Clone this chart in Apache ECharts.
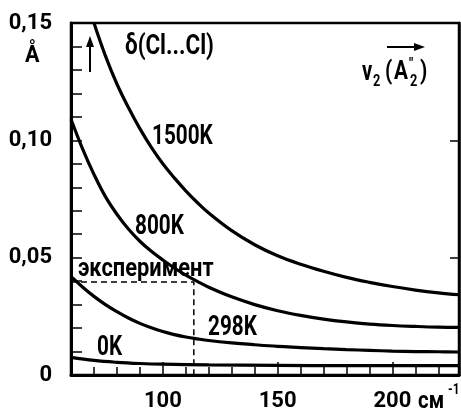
<!DOCTYPE html>
<html>
<head>
    <meta charset="UTF-8">
    <title>delta Cl...Cl</title>
    <script src="https://cdn.jsdelivr.net/npm/echarts@6/dist/echarts.min.js"></script>
    <style>
        html, body { margin: 0; padding: 0; background: #fff; }
        #main { width: 461px; height: 413px; }
    </style>
</head>
<body>
<div id="main"></div>
<script>
    // ν2 в см-1, δ в Å
    var x1500 = [70, 75, 80, 85, 90, 95, 100, 105, 110, 115, 120, 130, 140, 150, 160, 170, 180, 190, 200, 210, 220, 229];
    var y1500 = [0.150, 0.136, 0.124, 0.114, 0.105, 0.097, 0.090, 0.084, 0.0785, 0.0735, 0.069, 0.0615, 0.0555, 0.0508, 0.0472, 0.0442, 0.0416, 0.0395, 0.0377, 0.0362, 0.035, 0.0342];

    var x800 = [60, 65, 70, 75, 80, 85, 90, 95, 100, 105, 110, 115, 120, 130, 140, 150, 160, 170, 180, 190, 200, 210, 220, 229];
    var y800 = [0.109, 0.0965, 0.0855, 0.0760, 0.0685, 0.0622, 0.0570, 0.0527, 0.0490, 0.0456, 0.0426, 0.0399, 0.0374, 0.0333, 0.0300, 0.0274, 0.0254, 0.0238, 0.0226, 0.0217, 0.0211, 0.0207, 0.0204, 0.0203];

    var x298 = [60, 65, 70, 75, 80, 85, 90, 95, 100, 105, 110, 115, 120, 130, 140, 150, 160, 170, 180, 190, 200, 210, 220, 229];
    var y298 = [0.042, 0.0375, 0.0335, 0.030, 0.0270, 0.0243, 0.0220, 0.0201, 0.0185, 0.0172, 0.0162, 0.0154, 0.0147, 0.0137, 0.0129, 0.0122, 0.0117, 0.0112, 0.0108, 0.0105, 0.0102, 0.0100, 0.0099, 0.0098];

    var x0 = [60, 70, 80, 90, 100, 120, 150, 180, 229];
    var y0 = [0.0075, 0.0062, 0.0054, 0.0049, 0.0046, 0.0043, 0.0041, 0.0040, 0.0040];

    // эксперимент
    var expPoint = [113.5, 0.0396];

    var xMajor = [100, 150, 200];
    var yTicks = [0, 0.05, 0.10, 0.15];

    function pairs(xs, ys) {
        var out = [];
        for (var i = 0; i < xs.length; i++) out.push([xs[i], ys[i]]);
        return out;
    }

    var FONT = 'Roboto, "DejaVu Sans", sans-serif';

    function curve(name, xs, ys) {
        return {
            name: name, type: 'line', data: pairs(xs, ys),
            smooth: 0.4, showSymbol: false, clip: true,
            lineStyle: { color: '#000', width: 3.2 }
        };
    }

    // надписи на поле графика (шрифт сжат по горизонтали)
    function label(text, x, y, size, sx) {
        return {
            type: 'text', x: x, y: y, scaleX: sx || 0.74,
            style: { text: text, font: 'bold ' + (size || 28) + 'px ' + FONT, fill: '#000', align: 'left', verticalAlign: 'middle' }
        };
    }

    var myChart = echarts.init(document.getElementById('main'));

    var option = {
        animation: false,
        backgroundColor: '#fff',
        grid: { left: 71, top: 23, right: 2, bottom: 38, show: true, borderColor: '#000', borderWidth: 2.5, backgroundColor: 'transparent' },
        xAxis: [{
            type: 'value', min: 60, max: 229, interval: 10,
            axisLine: { lineStyle: { color: '#000', width: 3 } },
            axisTick: { inside: true, length: 8, lineStyle: { color: '#000', width: 1.5 } },
            axisLabel: { show: false },
            splitLine: { show: false }
        }, {
            type: 'value', min: 60, max: 229, position: 'bottom',
            axisLine: { show: false },
            axisTick: { inside: true, length: 13, customValues: xMajor, lineStyle: { color: '#000', width: 1.5 } },
            axisLabel: { customValues: xMajor, margin: 15, color: '#000', fontSize: 22, fontWeight: 'bold', fontFamily: FONT },
            splitLine: { show: false }
        }],
        yAxis: [{
            type: 'value', min: 0, max: 0.15, interval: 0.01,
            axisLine: { show: true, lineStyle: { color: '#000', width: 3 } },
            axisTick: { inside: true, length: 11, lineStyle: { color: '#000', width: 1.5 } },
            axisLabel: {
                margin: 19, color: '#000', fontSize: 22, fontWeight: 'bold', fontFamily: FONT,
                customValues: yTicks,
                formatter: function (v) {
                    if (v === 0) return '0';
                    return v.toFixed(2).replace('.', ',');
                }
            },
            splitLine: { show: false }
        }, {
            type: 'value', min: 0, max: 0.15, interval: 0.05, position: 'right',
            axisLine: { show: true, lineStyle: { color: '#000', width: 2.5 } },
            axisTick: { inside: true, length: 9, lineStyle: { color: '#000', width: 1.5 } },
            axisLabel: { show: false },
            splitLine: { show: false }
        }],
        series: [
            curve('1500K', x1500, y1500),
            curve('800K', x800, y800),
            curve('298K', x298, y298),
            curve('0K', x0, y0),
            {
                name: 'эксперимент', type: 'line', showSymbol: false,
                data: [[60, expPoint[1]], expPoint, [expPoint[0], 0]],
                lineStyle: { color: '#000', width: 1.5, type: [6, 4] }
            }
        ],
        graphic: [
            label('Å', 25, 56, 24, 0.9),
            { type: 'line', shape: { x1: 90, y1: 72, x2: 90, y2: 44 }, style: { stroke: '#000', lineWidth: 2 } },
            { type: 'polygon', shape: { points: [[86, 47], [94, 47], [90, 36]] }, style: { fill: '#000' } },
            label('δ(Cl...Cl)', 125, 47, 28, 0.8),
            label('1500K', 152, 137),
            label('800K', 135, 227),
            label('эксперимент', 78, 269, 26, 0.84),
            label('298K', 208, 328),
            label('0K', 97, 348),
            // ν2(A2″)
            label('ν', 362, 73, 27, 0.75),
            label('2', 373, 82, 16, 0.8),
            label('(', 385, 72, 26, 0.8),
            label('A', 394, 72, 26, 0.8),
            label('″', 409, 64, 15, 0.9),
            label('2', 410, 82, 16, 0.8),
            label(')', 420, 72, 26, 0.8),
            { type: 'line', shape: { x1: 387, y1: 47, x2: 416, y2: 47 }, style: { stroke: '#000', lineWidth: 2 } },
            { type: 'polygon', shape: { points: [[414, 43], [414, 51], [425, 47]] }, style: { fill: '#000' } },
            label('см', 418, 402, 24, 0.85),
            label('-1', 448, 390, 14, 0.85)
        ]
    };

    myChart.setOption(option);
</script>
</body>
</html>
